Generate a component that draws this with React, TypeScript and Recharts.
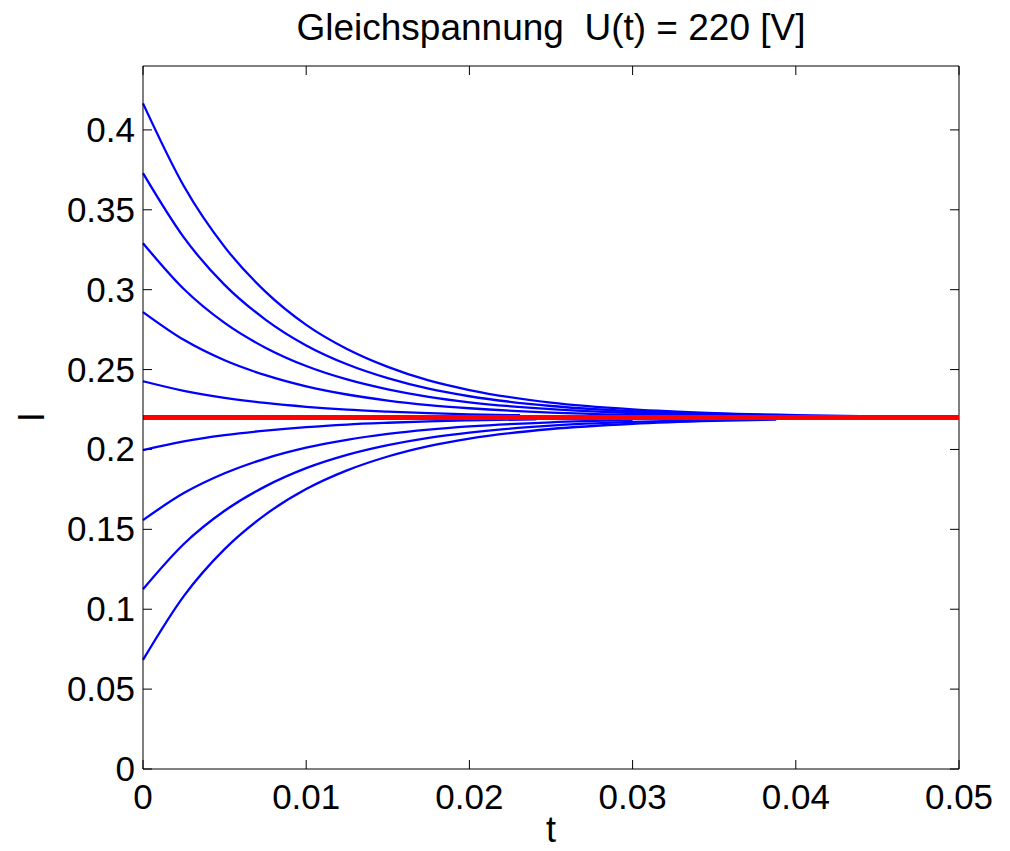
import React from 'react';
import { Line, LineChart, ReferenceLine, XAxis, YAxis } from 'recharts';

// sample times shared by the blue curves (last point of each curve is its own end time)
const tGrid = [0, 0.0025, 0.005, 0.0075, 0.01, 0.0125, 0.015, 0.0175, 0.02, 0.025, 0.03, 0.035, 0.04];
const curveEnds = [0.044, 0.0386, 0.0353, 0.0328, 0.0231, 0.0241, 0.03, 0.0345, 0.0388];

// current I per curve
const curve1 = [0.4166, 0.3649, 0.3268, 0.2988, 0.278, 0.2629, 0.2517, 0.2432, 0.2372, 0.2293, 0.2251, 0.2228, 0.2215, 0.2209];
const curve2 = [0.3729, 0.3327, 0.303, 0.2813, 0.2651, 0.2533, 0.2446, 0.238, 0.2333, 0.2272, 0.2239, 0.2214];
const curve3 = [0.3291, 0.3004, 0.2792, 0.2637, 0.2522, 0.2438, 0.2376, 0.2329, 0.2295, 0.2252, 0.2228, 0.2215];
const curve4 = [0.286, 0.2686, 0.2558, 0.2465, 0.2395, 0.2344, 0.2306, 0.2278, 0.2258, 0.2231, 0.2217, 0.2212];
const curve5 = [0.2427, 0.2367, 0.2323, 0.2291, 0.2267, 0.2249, 0.2237, 0.2227, 0.222, 0.2214];
const curve6 = [0.1996, 0.205, 0.2089, 0.2118, 0.214, 0.2156, 0.2167, 0.2176, 0.2182, 0.2189];
const curve7 = [0.1558, 0.1727, 0.1851, 0.1943, 0.2011, 0.206, 0.2097, 0.2124, 0.2144, 0.217, 0.2183];
const curve8 = [0.1125, 0.1408, 0.1616, 0.1769, 0.1883, 0.1966, 0.2027, 0.2073, 0.2106, 0.2149, 0.2172, 0.2184];
const curve9 = [0.0683, 0.1082, 0.1376, 0.1592, 0.1752, 0.1869, 0.1956, 0.2021, 0.2068, 0.2128, 0.2161, 0.2179, 0.2187];
const curves = [curve1, curve2, curve3, curve4, curve5, curve6, curve7, curve8, curve9];

// steady state current U/R
const steadyT = [0, 0.05];
const steadyI = [0.22, 0.22];

const xTicks = [0, 0.01, 0.02, 0.03, 0.04, 0.05];
const yTicks = [0, 0.05, 0.1, 0.15, 0.2, 0.25, 0.3, 0.35, 0.4];

const W = 1010;
const H = 851;
const PLOT_LEFT = 143;
const PLOT_RIGHT = 959;
const PLOT_TOP = 66;
const PLOT_BOTTOM = 769;
const TICK_LEN = 9;
const FONT = '"Liberation Sans", Arial, Helvetica, sans-serif';
const TICK_FONT = 35;

const seriesData = curves.map((vals, i) =>
  vals.map((v, k) => ({ t: k < vals.length - 1 ? tGrid[k] : curveEnds[i], I: v }))
);
const steadyData = steadyT.map((t, k) => ({ t, I: steadyI[k] }));

const XTick = (props: any) => {
  const { x, payload } = props;
  return (
    <g>
      <line x1={x} x2={x} y1={PLOT_BOTTOM} y2={PLOT_BOTTOM - TICK_LEN} stroke="#000" />
      <line x1={x} x2={x} y1={PLOT_TOP} y2={PLOT_TOP + TICK_LEN} stroke="#000" />
      <text x={x} y={PLOT_BOTTOM + 40} textAnchor="middle" fontFamily={FONT} fontSize={TICK_FONT} fill="#000">
        {String(payload.value)}
      </text>
    </g>
  );
};

const YTick = (props: any) => {
  const { y, payload } = props;
  return (
    <g>
      <line x1={PLOT_LEFT} x2={PLOT_LEFT + TICK_LEN} y1={y} y2={y} stroke="#000" />
      <line x1={PLOT_RIGHT} x2={PLOT_RIGHT - TICK_LEN} y1={y} y2={y} stroke="#000" />
      <text x={PLOT_LEFT - 8} y={y + 12} textAnchor="end" fontFamily={FONT} fontSize={TICK_FONT} fill="#000">
        {String(payload.value)}
      </text>
    </g>
  );
};

export default function App() {
  return (
    <div style={{ position: 'absolute', left: 0, top: 0, width: W, height: H, background: '#fff' }}>
      <div
        style={{
          position: 'absolute',
          left: PLOT_LEFT,
          top: 9,
          width: PLOT_RIGHT - PLOT_LEFT,
          textAlign: 'center',
          fontFamily: FONT,
          fontSize: 37,
          lineHeight: '37px',
          whiteSpace: 'pre',
          color: '#000',
        }}
      >
        {'Gleichspannung  U(t) = 220 [V]'}
      </div>
      <LineChart
        width={W}
        height={H}
        margin={{ top: PLOT_TOP, right: W - PLOT_RIGHT, bottom: 0, left: 0 }}
      >
        <XAxis
          dataKey="t"
          type="number"
          domain={[0, 0.05]}
          ticks={xTicks}
          height={H - PLOT_BOTTOM}
          tickLine={false}
          tick={(p: any) => <XTick {...p} />}
          axisLine={{ stroke: '#000' }}
          allowDuplicatedCategory={false}
          label={(p: any) => (
            <text x={(PLOT_LEFT + PLOT_RIGHT) / 2} y={842} textAnchor="middle" fontFamily={FONT} fontSize={36} fill="#000">
              t
            </text>
          )}
        />
        <YAxis
          type="number"
          domain={[0, 0.44]}
          ticks={yTicks}
          width={PLOT_LEFT}
          tickLine={false}
          tick={(p: any) => <YTick {...p} />}
          axisLine={{ stroke: '#000' }}
          label={(p: any) => (
            <text
              x={44}
              y={417}
              transform="rotate(-90 44 417)"
              textAnchor="middle"
              fontFamily={FONT}
              fontSize={37}
              fill="#000"
            >
              I
            </text>
          )}
        />
        <ReferenceLine y={0.44} stroke="#000" />
        <ReferenceLine x={0.05} stroke="#000" />
        {seriesData.map((d, i) => (
          <Line
            key={i}
            data={d}
            dataKey="I"
            type="monotone"
            stroke="#0000ff"
            strokeWidth={2.3}
            dot={false}
            activeDot={false}
            isAnimationActive={false}
          />
        ))}
        <Line
          data={steadyData}
          dataKey="I"
          type="linear"
          stroke="#ff0000"
          strokeWidth={5}
          dot={false}
          activeDot={false}
          isAnimationActive={false}
        />
      </LineChart>
    </div>
  );
}
